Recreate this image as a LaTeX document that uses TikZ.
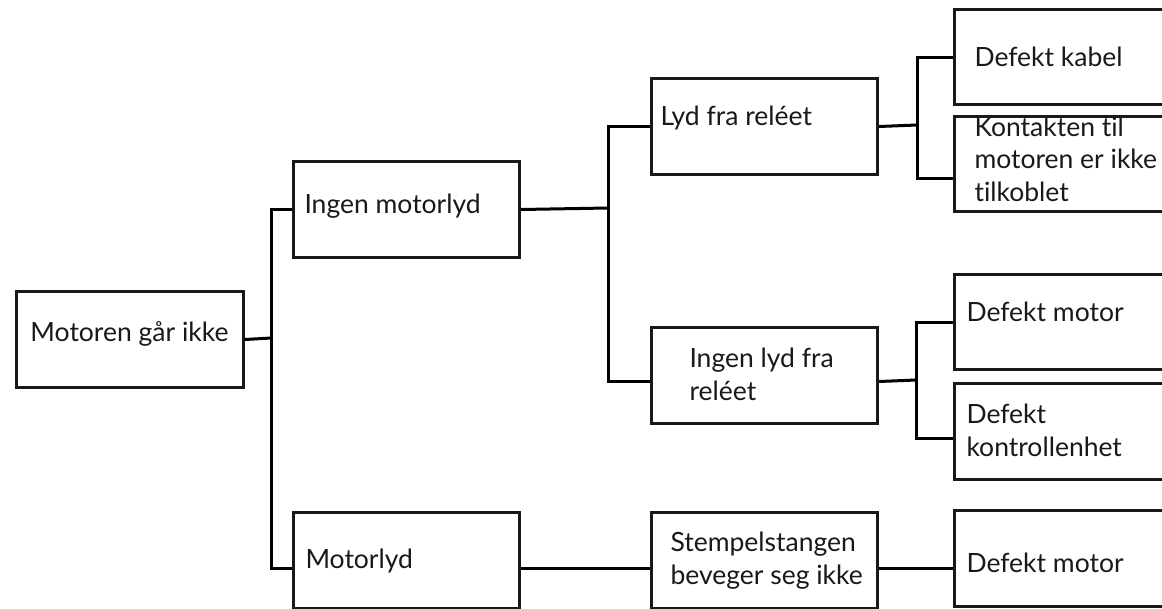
\documentclass[tikz,border=0pt]{standalone}
\usepackage{fontspec}
\setmainfont{Lato}[Ligatures=NoCommon]
\usetikzlibrary{calc}

\begin{document}
\begin{tikzpicture}[
    x=1pt, y=-1pt,
    line width=3pt,
    box node/.style={draw=black!90, anchor=north west, minimum width=226pt, minimum height=96pt, inner sep=0pt},
    text node/.style={anchor=base west, align=left, inner sep=0pt, text=black!90, font=\fontsize{26.5}{32.5}\selectfont}
]
    \useasboundingbox (0,0) rectangle (1162,608);

    % Boxes
    \node[box node, minimum width=227pt] (A) at (15,290) {};
    \node[box node] (B) at (292,160) {};
    \node[box node] (C) at (650,77) {};
    \node[box node, minimum height=95pt] (D) at (953,8) {};
    \node[box node, minimum height=95pt] (E) at (953,115) {};
    \node[box node] (F) at (650,326) {};
    \node[box node, minimum height=95pt] (G) at (953,273) {};
    \node[box node] (H) at (953,382) {};
    \node[box node] (I) at (292,511) {};
    \node[box node] (J) at (650,511) {};
    \node[box node] (K) at (953,509) {};

    % Texts (multi-line ones sit on their last baseline)
    \node[text node] (tA) at (29,341) {Motoren går ikke};
    \node[text node] (tB) at (303,213) {Ingen motorlyd};
    \node[text node] (tC) at (659,125) {Lyd fra reléet};
    \node[text node] (tD) at (973,66) {Defekt kabel};
    \node[text node] (tE) at (973,201) {Kontakten til\\motoren er ikke\\tilkoblet};
    \node[text node] (tF) at (688,400) {Ingen lyd fra\\reléet};
    \node[text node] (tG) at (965,321) {Defekt motor};
    \node[text node] (tH) at (965,456) {Defekt\\kontrollenhet};
    \node[text node] (tI) at (304,568) {Motorlyd};
    \node[text node] (tJ) at (669,584) {Stempelstangen\\beveger seg ikke};
    \node[text node] (tK) at (965,572) {Defekt motor};

    % Edges
    \coordinate (j1) at (271,338);
    \coordinate (j2) at (608,208);
    \coordinate (j3) at (917,125);
    \coordinate (j4) at (916,380);
    \draw (A.east) -- (j1);
    \draw (B.west) -| (j1) |- ([yshift=-8pt]I.west);
    \draw (B.east) -- (j2);
    \draw (C.west) -| (j2) |- ([yshift=-6pt]F.west);
    \draw (C.east) -- (j3);
    \draw (D.west) -| (j3) |- ([yshift=-14pt]E.west);
    \draw ([yshift=-6pt]F.east) -- (j4);
    \draw (G.west) -| (j4) |- ([yshift=-7pt]H.west);
    \draw ([yshift=-8pt]I.east) -- ([yshift=-8pt]J.west);
    \draw ([yshift=-8pt]J.east) -- ([yshift=-10pt]K.west);
\end{tikzpicture}
\end{document}
